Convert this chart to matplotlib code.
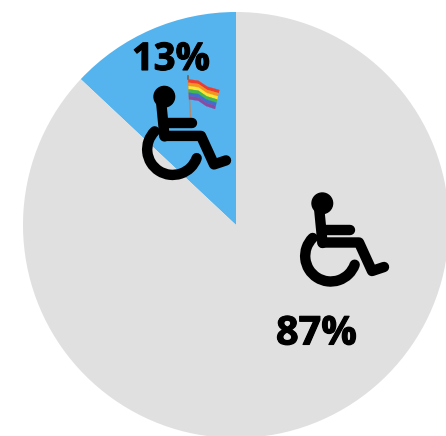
import numpy as np
import matplotlib
matplotlib.use('Agg')
import matplotlib.pyplot as plt
import matplotlib.patheffects as pe
from matplotlib.patches import Circle, Polygon, Arc

labels = ['13%', '87%']
shares = [13, 87]
colors = ['#55b4ee', '#e0e0e0']

W, H = 446, 436
fig = plt.figure(figsize=(W / 100, H / 100), dpi=100)
ax = fig.add_axes([0, 0, 1, 1])
ax.set_xlim(0, W)
ax.set_ylim(H, 0)
ax.axis('off')

# y axis is flipped, so going clockwise from -90 runs top to left on screen
ax.pie(shares, colors=colors, center=(236, 225), radius=213, startangle=-90,
       counterclock=False, frame=True)
ax.set_xlim(0, W)
ax.set_ylim(H, 0)
ax.set_aspect('equal')
ax.axis('off')


def wheelchair(dx, dy):
    lw = 10.4 * 0.72
    style = dict(color='black', lw=lw, solid_capstyle='round', solid_joinstyle='round', zorder=5)
    ax.add_patch(Circle((322.3 + dx, 203.3 + dy), 10.3, color='black', zorder=5))
    ax.plot([319 + dx, 322.5 + dx], [207 + dy, 243 + dy], **style)
    ax.plot([323 + dx, 349.5 + dx], [229.5 + dy, 229.5 + dy], **style)
    ax.plot([322.5 + dx, 359 + dx, 372 + dx, 384 + dx],
            [242.5 + dy, 242.5 + dy, 271 + dy, 267 + dy], **style)
    # wheel, angles measured on the flipped axis
    ax.add_patch(Arc((330.7 + dx, 256 + dy), 51, 51, theta1=20, theta2=225,
                     color='black', lw=lw, capstyle='round', zorder=5))


wheelchair(0, 0)
wheelchair(-158, -106.6)


def zx(v):
    return 120 + v / 3


def zy(v):
    return 30 + v / 3


# little rainbow flag held by the upper figure
ax.plot([zx(205), zx(212)], [zy(140), zy(268)], color='#b08a72', lw=1.1, zorder=4)
ax.plot([zx(205), zx(205)], [zy(138), zy(146)], color='#666666', lw=1.2, zorder=4)
stripes = ['#ee3b2e', '#f8921e', '#fde532', '#45b54d', '#3f6fcc', '#8a4aa0']
top = np.array([[205, 148], [235, 152], [262, 170], [298, 180]], float)
bottom = np.array([[207, 208], [235, 212], [258, 228], [285, 237]], float)
for i, c in enumerate(stripes):
    a = top + (bottom - top) * i / 6
    b = top + (bottom - top) * (i + 1) / 6
    pts = np.vstack([a, b[::-1]])
    ax.add_patch(Polygon(np.c_[zx(pts[:, 0]), zy(pts[:, 1])], closed=True,
                         facecolor=c, edgecolor=c, lw=0.2, zorder=4))

# thin outline gives the labels a heavier weight
heavy = [pe.withStroke(linewidth=0.8, foreground='black')]
ax.text(171, 60, labels[0], fontsize=27.5, fontweight='bold', family='Open Sans',
        ha='center', va='center', color='black', zorder=6, path_effects=heavy)
ax.text(316.5, 334, labels[1], fontsize=28.5, fontweight='bold', family='Open Sans',
        ha='center', va='center', color='black', zorder=6, path_effects=heavy)

fig.savefig('out.png', dpi=100, facecolor='white')
